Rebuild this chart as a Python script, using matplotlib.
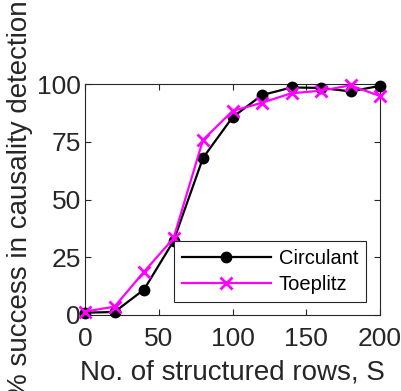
import matplotlib
matplotlib.use("Agg")
import matplotlib.pyplot as plt

S = [0, 20, 40, 60, 80, 100, 120, 140, 160, 180, 200]
circulant = [1, 1.3, 11, 32, 68, 85.6, 95.2, 98.5, 98.3, 96.8, 99.2]
toeplitz = [1.5, 3.6, 18.7, 33.2, 75.8, 88.3, 91.9, 96, 97.1, 99.4, 94.8]
xticks = [0, 50, 100, 150, 200]
yticks = [0, 25, 50, 75, 100]

plt.rcParams['font.family'] = ['Liberation Sans', 'DejaVu Sans']

fig = plt.figure(figsize=(4.01, 3.91), dpi=100)
ax = fig.add_axes([85/401, 1 - 315/391, (380-85)/401, (315-84)/391])

ax.plot(S, circulant, color='black', lw=1.6, marker='o', markersize=7.5, label='Circulant', clip_on=False, zorder=3)
ax.plot(S, toeplitz, color='#ff00ff', lw=1.6, marker='x', markersize=8, markeredgewidth=2, label='Toeplitz', clip_on=False, zorder=4)

ax.set_xlim(0, 200)
ax.set_ylim(0, 100)
ax.set_xticks(xticks)
ax.set_yticks(yticks)
ax.tick_params(direction='in', top=True, right=True, labelsize=19, colors='#262626', length=4)
ax.tick_params(axis='x', pad=9)
ax.tick_params(axis='y', pad=3)
for sp in ax.spines.values():
    sp.set_color('#262626')
    sp.set_linewidth(0.8)

ax.set_xlabel('No. of structured rows, S', fontsize=20, color='#262626', labelpad=6)
ax.set_ylabel('% success in causality detection', fontsize=20, color='#262626')
ax.yaxis.set_label_coords(-0.175, 0.5)

leg = ax.legend(loc='lower right', bbox_to_anchor=(0.953, 0.056), fontsize=14.5, handlelength=4.4,
                fancybox=False, framealpha=1, edgecolor='#262626', borderpad=0.4, labelspacing=0.35,
                handletextpad=0.4, borderaxespad=0)
leg.get_frame().set_linewidth(0.8)

fig.savefig('out.png', dpi=100)
